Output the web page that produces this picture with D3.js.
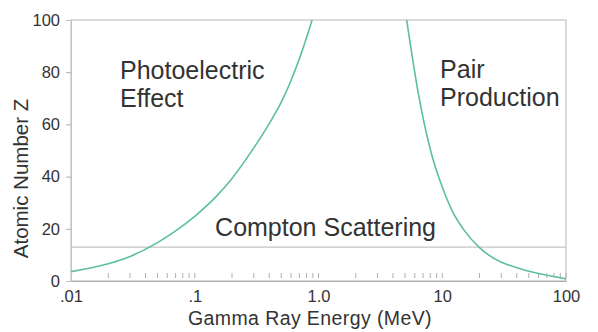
<!DOCTYPE html>
<html>
<head>
<meta charset="utf-8">
<script src="https://cdn.jsdelivr.net/npm/d3@7"></script>
<style>
  html, body { margin: 0; padding: 0; background: #fff; }
  svg { display: block; font-family: "Liberation Sans", Arial, Helvetica, sans-serif; }
</style>
</head>
<body>
<svg id="chart" width="598" height="332"></svg>
<script>
// ---- data ----
const photoEnergy = [0.01, 0.02, 0.03, 0.05, 0.07, 0.1, 0.15, 0.2, 0.3, 0.4, 0.5, 0.6, 0.7, 0.8, 0.887];
const photoZ      = [3.6, 6.6, 9.4, 14.7, 19.2, 24.8, 32.5, 39.3, 51, 60.3, 68.5, 76.8, 85.1, 93.2, 100];
const pairEnergy  = [5.16, 6.4, 8, 10, 12.3, 15, 20, 30, 35, 50, 70, 80, 100];
const pairZ       = [100, 72, 50.5, 36, 26, 19.5, 12.8, 7.2, 6.0, 3.7, 2.2, 1.7, 0.8];
const comptonZ    = 13;
const xTickValues = [0.01, 0.1, 1, 10, 100];
const xTickLabels = [".01", ".1", "1.0", "10", "100"];
const yTickValues = [0, 20, 40, 60, 80, 100];
const regionLabels = [
  { lines: ["Photoelectric", "Effect"], e: 0.0249, z: 77.4 },
  { lines: ["Pair", "Production"], e: 9.6, z: 77.6 },
  { lines: ["Compton Scattering"], e: 0.146, z: 17.2 }
];

// ---- layout ----
const svg = d3.select("#chart");
const L = 71, R = 566, T = 20, B = 281;
const x = d3.scaleLog().domain([0.01, 100]).range([L, R]);
const y = d3.scaleLinear().domain([0, 100]).range([B, T]);
const textColor = "#333";
const frameColor = "#c4c4c4";
const curveColor = "#5cbf9f";

// frame
svg.append("rect").attr("x", L).attr("y", T).attr("width", R - L).attr("height", B - T)
  .attr("fill", "none").attr("stroke", frameColor).attr("stroke-width", 1.2);

// y axis
const yAxis = d3.axisLeft(y).tickValues(yTickValues).tickSize(5).tickPadding(6);
const gy = svg.append("g").attr("transform", `translate(${L},0)`).call(yAxis);
gy.select(".domain").attr("stroke", frameColor);
gy.selectAll(".tick line").attr("stroke", "#b0b0b0");
gy.selectAll(".tick").filter(d => d === 0 || d === 100).select("line").remove();
gy.selectAll(".tick text").attr("fill", textColor).attr("font-size", 16.5)
  .attr("font-family", "Liberation Sans, Arial, sans-serif").attr("x", -11);

// x axis labels (no ticks)
const xAxis = d3.axisBottom(x).tickValues(xTickValues)
  .tickFormat((d, i) => xTickLabels[i]).tickSize(0).tickPadding(9);
const gx = svg.append("g").attr("transform", `translate(0,${B})`).call(xAxis);
gx.select(".domain").attr("stroke", "#aaa");
gx.selectAll(".tick text").attr("fill", textColor).attr("font-size", 16.5)
  .attr("font-family", "Liberation Sans, Arial, sans-serif");

// minor ticks inside, slightly above axis
const minor = [];
[0.01, 0.1, 1, 10].forEach(dec => { for (let k = 2; k <= 10; k++) minor.push(dec * k); });
svg.append("g").selectAll("line").data(minor).join("line")
  .attr("x1", d => x(d)).attr("x2", d => x(d))
  .attr("y1", B - 8).attr("y2", B - 3)
  .attr("stroke", "#b0b0b0").attr("stroke-width", 1);

// compton line
svg.append("line").attr("x1", L).attr("x2", R).attr("y1", y(comptonZ)).attr("y2", y(comptonZ))
  .attr("stroke", frameColor).attr("stroke-width", 1.2);

// clip
svg.append("clipPath").attr("id", "clip").append("rect")
  .attr("x", L).attr("y", T).attr("width", R - L).attr("height", B - T);

const line = d3.line().x(d => x(d[0])).y(d => y(d[1])).curve(d3.curveMonotoneX);
const photo = photoEnergy.map((e, i) => [e, photoZ[i]]);
const pair = pairEnergy.map((e, i) => [e, pairZ[i]]);
[photo, pair].forEach(data => {
  svg.append("path").datum(data).attr("d", line).attr("fill", "none")
    .attr("stroke", curveColor).attr("stroke-width", 1.6).attr("clip-path", "url(#clip)");
});

// region labels
regionLabels.forEach(lab => {
  const t = svg.append("text").attr("x", x(lab.e)).attr("y", y(lab.z))
    .attr("font-size", 25).attr("fill", textColor);
  lab.lines.forEach((s, i) => {
    t.append("tspan").attr("x", x(lab.e)).attr("dy", i === 0 ? 0 : 28).text(s);
  });
});

// axis titles
svg.append("text").attr("x", 310).attr("y", 324.5).attr("text-anchor", "middle")
  .attr("font-size", 19.5).attr("letter-spacing", 0.4).attr("fill", textColor)
  .text("Gamma Ray Energy (MeV)");
svg.append("text").attr("transform", `translate(28,${(97 + 260) / 2}) rotate(-90)`)
  .attr("text-anchor", "middle").attr("font-size", 20.5).attr("fill", textColor)
  .text("Atomic Number Z");
</script>
</body>
</html>
